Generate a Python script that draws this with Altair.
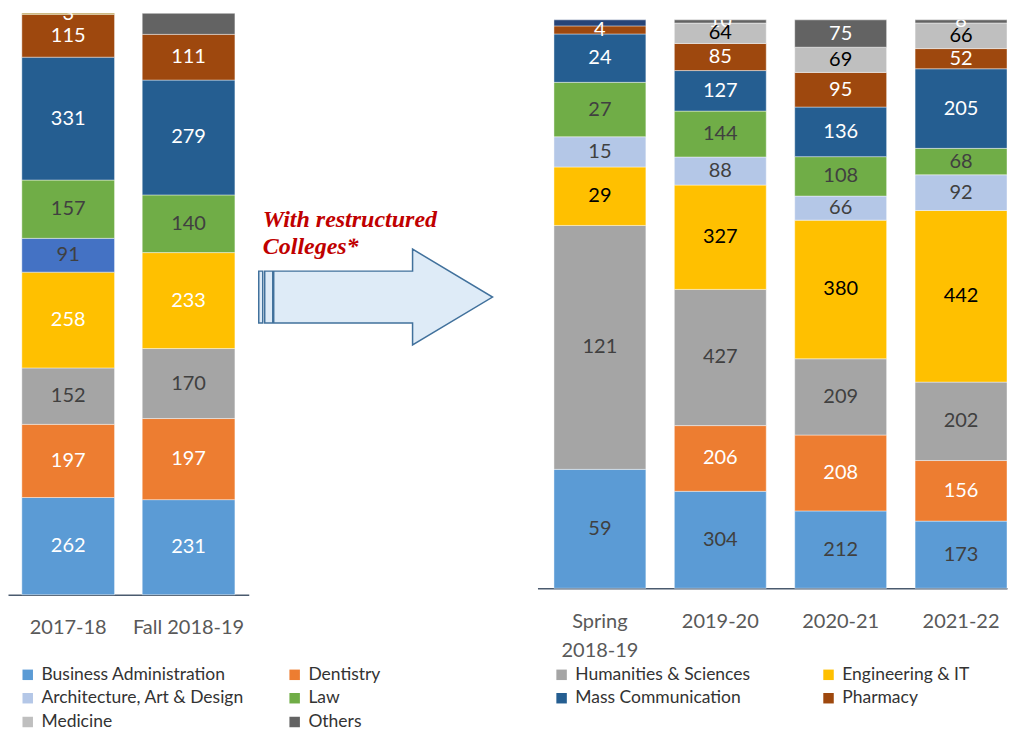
import altair as alt
import pandas as pd

# ---------------- data ----------------
periods_left = ["2017-18", "Fall 2018-19"]
periods_right = ["Spring 2018-19", "2019-20", "2020-21", "2021-22"]
periods = periods_left + periods_right

business = [262, 231, 59, 304, 212, 173]
dentistry = [197, 197, 0, 206, 208, 156]
humanities = [152, 170, 121, 427, 209, 202]
engineering = [258, 233, 29, 327, 380, 442]
architecture = [0, 0, 15, 88, 66, 92]
legacy_a = [91, 0, 0, 0, 0, 0]          # extra series shown only in 2017-18
law = [157, 140, 27, 144, 108, 68]
mass_comm = [331, 279, 24, 127, 136, 205]
pharmacy = [115, 111, 4, 85, 95, 52]
medicine = [0, 0, 0, 64, 69, 66]
others = [0, 51, 0, 10, 75, 8]
legacy_b = [3, 0, 0, 0, 0, 0]           # extra series on top of 2017-18
legacy_c = [0, 0, 3, 0, 0, 0]           # extra series on top of Spring 2018-19

legend_names = ["Business Administration", "Dentistry", "Humanities & Sciences", "Engineering & IT",
                "Architecture, Art & Design", "Law", "Mass Communication", "Pharmacy",
                "Medicine", "Others"]
legend_colors = ["#5B9BD5", "#ED7D31", "#A5A5A5", "#FFC000",
                 "#B4C7E7", "#70AD47", "#255E91", "#9E480E",
                 "#BFBFBF", "#636363"]
extra_names = ["Legacy A", "Legacy B", "Legacy C"]
extra_colors = ["#4472C4", "#997300", "#264478"]

# stacking order bottom -> top
stack_series = ["Business Administration", "Dentistry", "Humanities & Sciences", "Engineering & IT",
                "Architecture, Art & Design", "Legacy A", "Law", "Mass Communication", "Pharmacy",
                "Medicine", "Others", "Legacy B", "Legacy C"]
stack_values = [business, dentistry, humanities, engineering, architecture, legacy_a, law,
                mass_comm, pharmacy, medicine, others, legacy_b, legacy_c]

# label colours (left panel / right panel)
label_color_left = {"Humanities & Sciences": "#404040", "Law": "#404040", "Legacy A": "#404040"}
label_color_right = {"Business Administration": "#404040", "Humanities & Sciences": "#404040",
                     "Engineering & IT": "#000000", "Architecture, Art & Design": "#404040",
                     "Law": "#404040", "Medicine": "#000000"}
unlabeled = {("Fall 2018-19", "Others"), ("Spring 2018-19", "Legacy C")}

rows = []
for order, (s, vals) in enumerate(zip(stack_series, stack_values)):
    for p, v in zip(periods, vals):
        if v <= 0:
            continue
        left = p in periods_left
        lc = (label_color_left if left else label_color_right).get(s, "white")
        rows.append({
            "period": p, "series": s, "value": v, "order": order,
            "label": "" if (p, s) in unlabeled else str(v),
            "lc": lc, "panel": "L" if left else "R",
        })
df = pd.DataFrame(rows)

all_names = legend_names + extra_names
all_colors = legend_colors + extra_colors

FONT = "Lato"

legend = alt.Legend(
    title=None, orient="none", legendX=11, legendY=653, columns=4, direction="horizontal",
    gridAlign="all", values=legend_names, symbolType="square", symbolSize=110,
    symbolStrokeWidth=0, labelFont=FONT, labelFontSize=17.5, labelColor="#333333",
    labelLimit=400, columnPadding=41.2, rowPadding=4.8, labelOffset=5, padding=0,
)


def panel(data, domain, width, height, p_inner, p_outer, align=0.5):
    base = (
        alt.Chart(data)
        .transform_stack(stack="value", groupby=["period"], as_=["y0", "y1"],
                         offset="normalize", sort=[alt.SortField("order", order="ascending")])
        .transform_calculate(mid="(datum.y0 + datum.y1) / 2")
    )
    xenc = alt.X(
        "period:N",
        scale=alt.Scale(domain=domain, paddingInner=p_inner, paddingOuter=p_outer, align=align),
        axis=alt.Axis(
            title=None, ticks=False, tickSize=0, labelPadding=23, labelFont=FONT,
            labelFontSize=20, labelColor="#595959", domainColor="#4A5A6E", domainWidth=1.5,
            labelAngle=0, labelLineHeight=29, grid=False,
            labelExpr="datum.label == 'Spring 2018-19' ? ['Spring', '2018-19'] : datum.label",
        ),
    )
    bars = base.mark_bar(stroke="white", strokeWidth=0.6, strokeOpacity=0.7).encode(
        x=xenc,
        y=alt.Y("y0:Q", scale=alt.Scale(domain=[0, 1]), axis=None),
        y2="y1:Q",
        color=alt.Color("series:N", scale=alt.Scale(domain=all_names, range=all_colors),
                        legend=legend),
    )
    layers = [bars]
    for c in ["white", "#404040", "#000000"]:
        t = (
            base.transform_filter(alt.datum.lc == c)
            .transform_filter(alt.datum.label != "")
            .mark_text(color=c, font=FONT, fontSize=20, baseline="middle", clip=True)
            .encode(x=alt.X("period:N"), y=alt.Y("mid:Q"), text="label:N")
        )
        layers.append(t)
    return alt.layer(*layers).properties(width=width, height=height)


left = panel(df[df.panel == "L"], periods_left, 241, 582, 0.23, 0.115)
right = panel(df[df.panel == "R"], periods_right, 470, 569, 0.2365, 0.0685, align=1.0)

# middle annotation: arrow + note
ARROW = ("M -1 -0.222 L -0.966 -0.222 L -0.966 0.222 L -1 0.222 Z "
         "M -0.949 -0.222 L -0.88 -0.222 L -0.88 0.222 L -0.949 0.222 Z "
         "M -0.872 -0.222 L 0.316 -0.222 L 0.316 -0.41 L 1 0 L 0.316 0.41 "
         "L 0.316 0.222 L -0.872 0.222 Z")
note_lines = ["With restructured", "Colleges*"]
anchor = pd.DataFrame({"k": [0]})
arrow = alt.Chart(anchor).mark_point(
    shape=ARROW, size=234 * 234, filled=True, fill="#DEEBF7", stroke="#41719C",
    strokeWidth=1.5, opacity=1,
).encode(x=alt.value(127), y=alt.value(284))
note = alt.Chart(anchor).mark_text(
    text=note_lines, align="left", baseline="alphabetic", font="Liberation Serif",
    fontStyle="italic", fontWeight="bold", fontSize=24, lineHeight=27, color="#C00000",
).encode(x=alt.value(14), y=alt.value(214))
middle = alt.layer(arrow, note).properties(width=289, height=582)

chart = (
    alt.hconcat(left, middle, right, spacing=0, center=True, bounds="flush")
    .properties(padding={"left": 0, "top": 4, "right": 0, "bottom": 0})
    .configure_view(stroke=None)
)

chart.save("out.html", embed_options={"renderer": "svg", "actions": False})
